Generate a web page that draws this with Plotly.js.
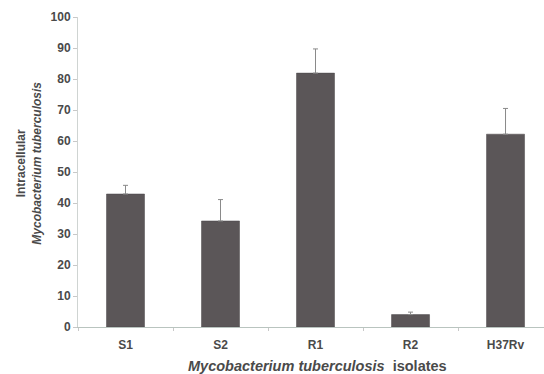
<!DOCTYPE html>
<html><head><meta charset="utf-8">
<script src="https://cdn.plot.ly/plotly-3.0.1.min.js"></script>
<style>html,body{margin:0;padding:0;background:#fff}#chart{width:544px;height:374px}</style>
</head><body><div id="chart"></div>
<script>
const categories = ["S1", "S2", "R1", "R2", "H37Rv"];
const values = [42.9, 34.2, 81.9, 4.0, 62.2];
const errorsUp = [2.8, 6.9, 7.8, 0.8, 8.3];
const yTicks = [0, 10, 20, 30, 40, 50, 60, 70, 80, 90, 100];

const textColor = "#4a4a4a";
const trace = {
  type: "bar",
  x: categories,
  y: values,
  marker: {color: "#5b5658", line: {color: "#4a4648", width: 0.5}},
  error_y: {type: "data", symmetric: false, array: errorsUp, arrayminus: errorsUp.map(() => 0),
            color: "#8a8a8a", thickness: 1, width: 2.5},
  hoverinfo: "skip"
};
const layout = {
  width: 544, height: 374,
  margin: {l: 78, r: 0, t: 17, b: 47},
  paper_bgcolor: "#ffffff", plot_bgcolor: "#ffffff",
  bargap: 0.6,
  showlegend: false,
  font: {family: "Liberation Sans, Arial, sans-serif", color: textColor},
  xaxis: {
    range: [-0.5, 4.405], showgrid: false, zeroline: false,
    showline: true, linecolor: "#b9c4bf", linewidth: 1,
    ticks: "outside", tickson: "boundaries", ticklen: 3, tickcolor: "#c8c8c8",
    ticklabelstandoff: 7,
    tickfont: {size: 12, weight: "bold", color: textColor}
  },
  yaxis: {
    range: [0, 100], tickvals: yTicks, showgrid: false, zeroline: false,
    showline: true, linecolor: "#cfd4d2", linewidth: 1,
    ticks: "outside", ticklen: 4, tickcolor: "#c8c8c8",
    tickfont: {size: 12, weight: "bold", color: textColor}
  },
  annotations: [
    {xref: "paper", yref: "paper", x: -0.105, y: 0.527, xanchor: "center", yanchor: "middle",
     textangle: -90, showarrow: false,
     text: "Intracellular<br><i>Mycobacterium tuberculosis</i>",
     font: {size: 12, weight: "bold", color: textColor}},
    {xref: "paper", yref: "paper", x: 0.513, y: -0.126, xanchor: "center", yanchor: "middle",
     showarrow: false,
     text: "<i>Mycobacterium tuberculosis</i>  isolates",
     font: {size: 14.5, weight: "bold", color: textColor}}
  ]
};
Plotly.newPlot("chart", [trace], layout, {displayModeBar: false, staticPlot: true});
</script></body></html>
